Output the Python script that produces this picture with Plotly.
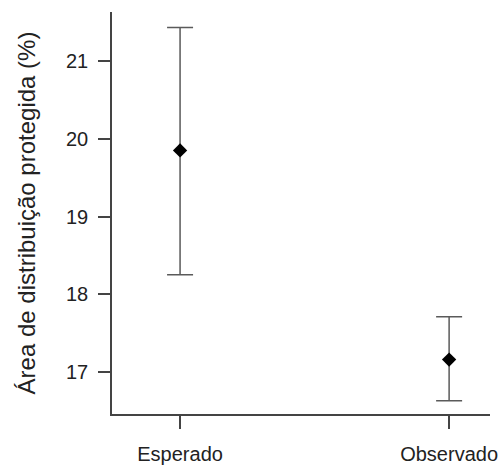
import plotly.graph_objects as go

categorias = ["Esperado", "Observado"]
posicoes = [1, 2]
media = [19.85, 17.16]
limite_superior = [21.43, 17.71]
limite_inferior = [18.25, 16.63]

erro_sup = [s - m for s, m in zip(limite_superior, media)]
erro_inf = [m - i for m, i in zip(media, limite_inferior)]

fonte = "Liberation Sans, Arial, sans-serif"
cinza_eixo = "#444444"

fig = go.Figure()
fig.add_trace(go.Scatter(
    x=posicoes,
    y=media,
    mode="markers",
    marker=dict(symbol="diamond", size=11, color="black"),
    error_y=dict(
        type="data",
        symmetric=False,
        array=erro_sup,
        arrayminus=erro_inf,
        color="#5a5a5a",
        thickness=1.5,
        width=13,
    ),
    showlegend=False,
))

fig.update_layout(
    width=500,
    height=466,
    margin=dict(l=112, r=10, t=12, b=52),
    plot_bgcolor="white",
    paper_bgcolor="white",
    font=dict(family=fonte, size=20, color="#222222"),
    xaxis=dict(
        range=[0.747, 2.152],
        tickvals=posicoes,
        ticktext=categorias,
        ticks="outside",
        ticklen=13,
        tickwidth=1.5,
        tickcolor=cinza_eixo,
        showline=True,
        linecolor=cinza_eixo,
        linewidth=1.5,
        showgrid=False,
        zeroline=False,
        automargin=False,
        ticklabelstandoff=8,
    ),
    yaxis=dict(
        range=[16.46, 21.63],
        tickvals=[17, 18, 19, 20, 21],
        ticks="outside",
        ticklen=12,
        tickwidth=1.5,
        tickcolor=cinza_eixo,
        showline=True,
        linecolor=cinza_eixo,
        linewidth=1.5,
        showgrid=False,
        zeroline=False,
        automargin=False,
        ticklabelstandoff=6,
        title=dict(
            text="Área de distribuição protegida (%)",
            font=dict(size=24),
            standoff=24,
        ),
    ),
)

fig.write_html("out.html")
